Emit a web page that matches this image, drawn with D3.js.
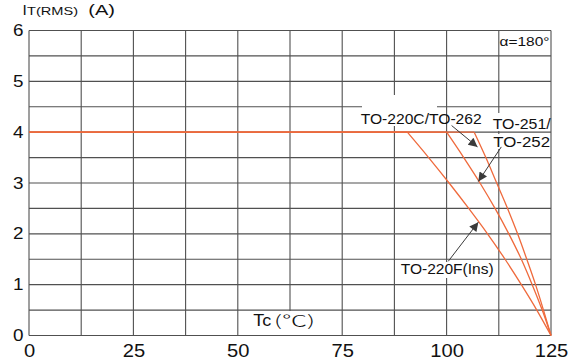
<!DOCTYPE html>
<html>
<head>
<meta charset="utf-8">
<script src="https://cdn.jsdelivr.net/npm/d3@7"></script>
<style>
  html, body { margin: 0; padding: 0; background: #fff; }
  svg { display: block; }
  text { font-family: "Liberation Sans", Arial, sans-serif; fill: #111; }
</style>
</head>
<body>
<div id="chart"></div>
<script>
// ---------- data ----------
const xTicks = [0, 25, 50, 75, 100, 125];
const yTicks = [0, 1, 2, 3, 4, 5, 6];
const xGridStep = 12.5;
const yGridStep = 0.5;
const ratedCurrent = 4;

// derating curves (Tc in °C, IT(RMS) in A)
const seriesNames = ["TO-220F(Ins)", "TO-251/TO-252", "TO-220C/TO-262"];
const currentLevels = [4.0, 3.5, 3.0, 2.5, 2.0, 1.5, 1.0, 0.5, 0];
const to220fTc = [90.6, 95.7, 100.6, 105.3, 109.8, 114.0, 117.9, 121.6, 125];
const to251Tc  = [100.0, 104.1, 108.0, 111.6, 114.9, 117.9, 120.5, 122.9, 125];
const to220cTc = [106.6, 109.4, 112.0, 114.6, 117.0, 119.2, 121.3, 123.2, 125];

const conductionAngle = "α=180°";

// ---------- layout ----------
const W = 579, H = 360;
const x = d3.scaleLinear().domain([0, 125]).range([29, 551]);
const y = d3.scaleLinear().domain([0, 6]).range([335.5, 30.5]);

const svg = d3.select("#chart").append("svg").attr("width", W).attr("height", H);

const gridColor = "#505050";
const orange = "#ef6a3c";
const arrowColor = "#3a3a3a";

// grid
const xs = d3.range(0, 125 + 0.001, xGridStep);
const ys = d3.range(0, 6 + 0.001, yGridStep);
const grid = svg.append("g");
grid.selectAll("line.v").data(xs).join("line")
  .attr("x1", d => x(d)).attr("x2", d => x(d))
  .attr("y1", y(6)).attr("y2", y(0))
  .attr("stroke", gridColor).attr("stroke-width", 1.1);
grid.selectAll("line.h").data(ys).join("line")
  .attr("x1", x(0)).attr("x2", x(125))
  .attr("y1", d => y(d)).attr("y2", d => y(d))
  .attr("stroke", gridColor).attr("stroke-width", 1.1);

// axes tick labels
svg.append("g").selectAll("text").data(xTicks).join("text")
  .attr("x", d => x(d) + 0.5).attr("y", 357)
  .attr("text-anchor", "middle")
  .attr("font-size", 18)
  .attr("textLength", d => String(d).length * 11.2)
  .attr("lengthAdjust", "spacingAndGlyphs")
  .text(d => d);

svg.append("g").selectAll("text").data(yTicks).join("text")
  .attr("x", 23.5).attr("y", d => y(d) + 5.5)
  .attr("text-anchor", "end")
  .attr("font-size", 17)
  .attr("textLength", 10.5)
  .attr("lengthAdjust", "spacingAndGlyphs")
  .text(d => d);

// y title
svg.append("text").attr("x", 22.5).attr("y", 15).attr("font-size", 15.5).text("I");
svg.append("text").attr("x", 27).attr("y", 15).attr("font-size", 11)
  .attr("textLength", 51).attr("lengthAdjust", "spacingAndGlyphs").text("T(RMS)");
svg.append("text").attr("x", 88.3).attr("y", 15).attr("font-size", 15.5)
  .attr("textLength", 26.7).attr("lengthAdjust", "spacingAndGlyphs").text("(A)");

// x title with white background
svg.append("rect").attr("x", 250).attr("y", 311).attr("width", 70).attr("height", 24).attr("fill", "#fff");
svg.append("text").attr("x", 253.3).attr("y", 326).attr("font-size", 16.5)
  .attr("textLength", 18).attr("lengthAdjust", "spacingAndGlyphs").text("Tc");
svg.append("text").attr("x", 274).attr("y", 326).attr("font-size", 15)
  .style("font-family", "'Noto Sans CJK SC', 'Noto Sans CJK JP', sans-serif")
  .style("font-weight", 300)
  .attr("textLength", 41).attr("lengthAdjust", "spacingAndGlyphs").text("(℃)");

// alpha note
svg.append("text").attr("x", 499.5).attr("y", 46).attr("font-size", 13.5)
  .attr("textLength", 50).attr("lengthAdjust", "spacingAndGlyphs").text(conductionAngle);

// curves
const curves = [
  { name: seriesNames[0], tc: to220fTc },
  { name: seriesNames[1], tc: to251Tc },
  { name: seriesNames[2], tc: to220cTc }
];
const lineGen = d3.line().x(d => x(d[0])).y(d => y(d[1])).curve(d3.curveMonotoneX);
const cg = svg.append("g").attr("fill", "none").attr("stroke", orange).attr("stroke-width", 1.3);
curves.forEach(c => {
  cg.append("line")
    .attr("x1", x(0)).attr("x2", x(c.tc[0]))
    .attr("y1", y(ratedCurrent)).attr("y2", y(ratedCurrent));
  cg.append("path").attr("d", lineGen(c.tc.map((t, k) => [t, currentLevels[k]])));
});

// labels with white backgrounds
function label(txt, lx, ly, len, bg) {
  if (bg) svg.append("rect").attr("x", bg[0]).attr("y", bg[1]).attr("width", bg[2]).attr("height", bg[3]).attr("fill", "#fff");
  svg.append("text").attr("x", lx).attr("y", ly).attr("font-size", 15)
    .attr("textLength", len).attr("lengthAdjust", "spacingAndGlyphs").text(txt);
}
label("TO-220C/TO-262", 360.7, 124, 121, [362, 95, 75, 31]);
label("TO-251/", 492.7, 129.3, 58, [492, 113, 58, 18]);
label("TO-252", 493.3, 146.7, 56.7, [492, 134, 58, 15]);
label("TO-220F(Ins)", 400.7, 274.3, 93, [400, 262, 95, 16]);

// arrows
const defs = svg.append("defs");
defs.append("marker").attr("id", "ah").attr("viewBox", "0 0 10 10")
  .attr("refX", 10).attr("refY", 5).attr("markerWidth", 11).attr("markerHeight", 9)
  .attr("markerUnits", "userSpaceOnUse").attr("orient", "auto")
  .append("path").attr("d", "M0,0 L10,5 L0,10 Z").attr("fill", arrowColor);

const arrows = [
  [[101.2, 4.13], [107.4, 3.71]],
  [[113.1, 3.71], [107.6, 3.03]],
  [[100.4, 1.46], [107.6, 2.23]]
];
svg.append("g").selectAll("line").data(arrows).join("line")
  .attr("x1", d => x(d[0][0])).attr("y1", d => y(d[0][1]))
  .attr("x2", d => x(d[1][0])).attr("y2", d => y(d[1][1]))
  .attr("stroke", arrowColor).attr("stroke-width", 1)
  .attr("marker-end", "url(#ah)");
</script>
</body>
</html>
